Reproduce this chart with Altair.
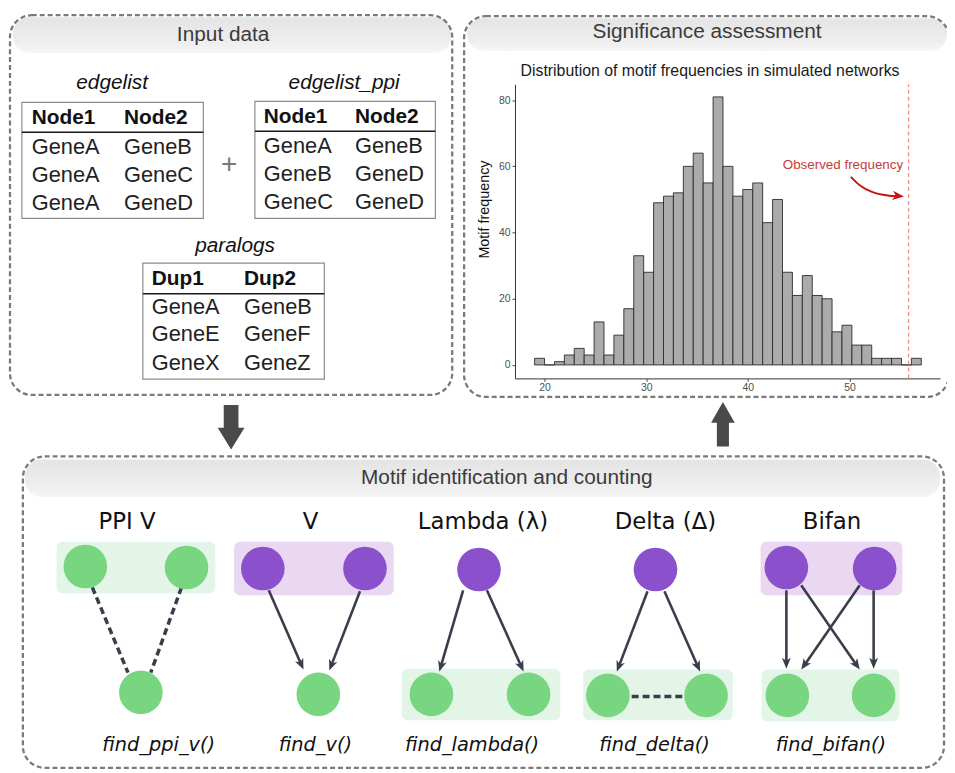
import math
import altair as alt
import pandas as pd

# ---------------- data ----------------
motif_counts = [2, 0, 1, 3, 5, 3, 13, 3, 9, 17, 33, 28, 49, 51, 52, 60, 64, 55, 81,
                60, 51, 53, 55, 43, 50, 28, 21, 27, 21, 20, 10, 12, 6, 6, 2, 2, 2, 0, 2]
first_bin_edge = 19.03
bin_width = 0.975
observed_frequency = 55.8
x_ticks = [20, 30, 40, 50]
y_ticks = [0, 20, 40, 60, 80]

edgelist_node1 = ["GeneA", "GeneA", "GeneA"]
edgelist_node2 = ["GeneB", "GeneC", "GeneD"]
ppi_node1 = ["GeneA", "GeneB", "GeneC"]
ppi_node2 = ["GeneB", "GeneD", "GeneD"]
paralog_dup1 = ["GeneA", "GeneE", "GeneX"]
paralog_dup2 = ["GeneB", "GeneF", "GeneZ"]

panel_titles = ["Input data", "Significance assessment", "Motif identification and counting"]
motif_names = ["PPI  V", "V", "Lambda (λ)", "Delta  (Δ)", "Bifan"]
motif_functions = ["find_ppi_v()", "find_v()", "find_lambda()", "find_delta()", "find_bifan()"]

# ---------------- canvas (page pixel) scales ----------------
W, H = 947, 765


def cX(f):
    return alt.X(f"{f}:Q", scale=alt.Scale(domain=[8, 955], range=[0, W], nice=False, zero=False), axis=None)


def cY(f):
    return alt.Y(f"{f}:Q", scale=alt.Scale(domain=[8, 773], range=[0, H], nice=False, zero=False), axis=None)


def rect_layer(rows, **mark):
    df = pd.DataFrame(rows, columns=["xa", "xb", "ya", "yb"])
    return alt.Chart(df).mark_rect(**mark).encode(x=cX("xa"), x2="xb:Q", y=cY("ya"), y2="yb:Q")


def rule_layer(rows, **mark):
    df = pd.DataFrame(rows, columns=["xa", "ya", "xb", "yb"])
    return alt.Chart(df).mark_rule(**mark).encode(x=cX("xa"), y=cY("ya"), x2="xb:Q", y2="yb:Q")


def text_layer(rows, size, font="Liberation Sans", color="#222222", weight="normal",
               style="normal", align="center", angle=0):
    df = pd.DataFrame(rows, columns=["x", "y", "t"])
    return alt.Chart(df).mark_text(font=font, fontSize=size, fontWeight=weight, fontStyle=style,
                                   color=color, align=align, baseline="middle", angle=angle).encode(
        x=cX("x"), y=cY("y"), text="t:N")


layers = []

# ---------------- panels ----------------
grad = alt.LinearGradient(gradient="linear",
                          stops=[alt.GradientStop(color="#e4e4e4", offset=0),
                                 alt.GradientStop(color="#eeeeee", offset=0.7),
                                 alt.GradientStop(color="#f6f6f6", offset=1)],
                          x1=0, x2=0, y1=0, y2=1)
layers.append(rect_layer([(13, 455, 14, 50), (471, 955, 15, 48), (25, 948, 460, 498)],
                         fill=grad, cornerRadius=17))
layers.append(rect_layer([(10, 456, 12, 395), (468, 957, 13, 397), (23, 952, 457, 771)],
                         fillOpacity=0, stroke="#7a7a7a", strokeWidth=2.3, strokeDash=[5, 3],
                         cornerRadius=22))
layers.append(text_layer([(225, 32, panel_titles[0]), (713, 29, panel_titles[1]),
                          (511, 479, panel_titles[2])], 21, color="#3a3a3a"))

# ---------------- input tables ----------------
tables = [
    dict(box=(22, 205, 100, 217), hline=130, cols=(32, 125), hy=116, rows=(145, 173, 201),
         head=("Node1", "Node2"), c1=edgelist_node1, c2=edgelist_node2, label="edgelist", lx=113, ly=80),
    dict(box=(257, 439, 99, 217), hline=129, cols=(266, 358), hy=115, rows=(144, 172, 200),
         head=("Node1", "Node2"), c1=ppi_node1, c2=ppi_node2, label="edgelist_ppi", lx=347, ly=80),
    dict(box=(144, 327, 262, 379), hline=293, cols=(153, 246), hy=278, rows=(306, 334, 363),
         head=("Dup1", "Dup2"), c1=paralog_dup1, c2=paralog_dup2, label="paralogs", lx=237, ly=245),
]
layers.append(rect_layer([t["box"] for t in tables], fill="white", stroke="#8c8c8c", strokeWidth=1.2))
layers.append(rule_layer([(t["box"][0], t["hline"], t["box"][1], t["hline"]) for t in tables],
                         color="#1a1a1a", strokeWidth=1.6))
head_rows, cell_rows, label_rows = [], [], []
for t in tables:
    head_rows += [(t["cols"][0], t["hy"], t["head"][0]), (t["cols"][1], t["hy"], t["head"][1])]
    for ry, a, b in zip(t["rows"], t["c1"], t["c2"]):
        cell_rows += [(t["cols"][0], ry, a), (t["cols"][1], ry, b)]
    label_rows.append((t["lx"], t["ly"], t["label"]))
layers.append(text_layer(head_rows, 21, weight="bold", align="left", color="#111111"))
layers.append(text_layer(cell_rows, 22, align="left", color="#222222"))
layers.append(text_layer(label_rows, 21, style="italic", color="#111111"))
layers.append(text_layer([(231, 163, "+")], 28, color="#777777"))

# ---------------- block arrows between panels ----------------
down_path = "M-0.33,-1L0.33,-1L0.33,0.02L0.6,0.02L0,1L-0.6,0.02L-0.33,0.02Z"
up_path = "M0,-1L0.53,-0.07L0.27,-0.07L0.27,1L-0.27,1L-0.27,-0.07L-0.53,-0.07Z"
for path, px, py in [(down_path, 233, 427.5), (up_path, 729, 424.5)]:
    layers.append(alt.Chart(pd.DataFrame({"x": [px], "y": [py]})).mark_point(
        shape=path, filled=True, size=2025, color="#4a4a4a", opacity=1).encode(x=cX("x"), y=cY("y")))

# ---------------- histogram ----------------
hist_df = pd.DataFrame({"count": motif_counts})
hist_df["x0"] = [first_bin_edge + i * bin_width for i in range(len(motif_counts))]
hist_df["x1"] = hist_df["x0"] + bin_width
hx = alt.Scale(domain=[17.1, 58.9], range=[511.3, 940], nice=False, zero=False)
hy = alt.Scale(domain=[-4.07, 84.8], range=[370.3, 73.7], nice=False, zero=False)
axis_style = dict(domainColor="#333333", domainWidth=1, tickColor="#333333", tickWidth=0.9, tickSize=3,
                  labelFont="Liberation Sans", labelFontSize=10.5, labelColor="#4d4d4d", grid=False, title=None)
layers.append(alt.Chart(hist_df).mark_rect(fill="#ababab", stroke="#2b2b2b", strokeWidth=0.9).encode(
    x=alt.X("x0:Q", scale=hx, axis=alt.Axis(orient="bottom", offset=-394.7, values=x_ticks,
                                              labelPadding=1, **axis_style)),
    x2="x1:Q",
    y=alt.Y("count:Q", scale=hy, axis=alt.Axis(orient="left", offset=-511.3, values=y_ticks,
                                                labelPadding=2, **axis_style)),
    y2=alt.datum(0),
))
layers.append(alt.Chart(pd.DataFrame({"x": [observed_frequency], "ya": [-4.07], "yb": [84.8]})).mark_rule(
    color="#f08c8c", strokeDash=[4, 3], strokeWidth=1.3).encode(
    x=alt.X("x:Q", scale=hx, axis=None), y=alt.Y("ya:Q", scale=hy, axis=None), y2="yb:Q"))
layers.append(alt.Chart(pd.DataFrame({"x": [49.35], "y": [60.4], "t": ["Observed frequency"]})).mark_text(
    font="Liberation Sans", fontSize=13.5, color="#c93a3a").encode(
    x=alt.X("x:Q", scale=hx, axis=None), y=alt.Y("y:Q", scale=hy, axis=None), text="t:N"))
curve_x = [50.13, 51.0, 52.2, 53.4, 54.6]
curve_y = [56.84, 54.3, 52.3, 51.35, 51.0]
layers.append(alt.Chart(pd.DataFrame({"x": curve_x, "y": curve_y})).mark_line(
    color="#c81414", strokeWidth=2, interpolate="monotone").encode(
    x=alt.X("x:Q", scale=hx, axis=None), y=alt.Y("y:Q", scale=hy, axis=None)))
head_path = "M0,0L0.9,2.2L0,1.6L-0.9,2.2Z"
layers.append(alt.Chart(pd.DataFrame({"x": [55.35], "y": [50.9], "a": [96]})).mark_point(
    shape=head_path, filled=True, size=110, color="#c81414", opacity=1).encode(
    x=alt.X("x:Q", scale=hx, axis=None), y=alt.Y("y:Q", scale=hy, axis=None),
    angle=alt.Angle("a:Q", scale=None)))
layers.append(text_layer([(716, 68, "Distribution of motif frequencies in simulated networks")], 16,
                         color="#1a1a1a"))
layers.append(text_layer([(489, 208, "Motif frequency")], 14.5, color="#111111", angle=270))

# ---------------- motifs ----------------
layers.append(rect_layer([(57, 217, 543, 595), (405, 565, 671, 723), (588, 739, 672, 723),
                          (768, 907, 672, 724)], fill="#e2f5e7", cornerRadius=6))
layers.append(rect_layer([(236, 397, 543, 597), (767, 910, 543, 597)], fill="#ead7f1", cornerRadius=6))

layers.append(rule_layer([(93, 589, 129, 675), (183, 589, 152, 675), (637, 699, 691, 699)],
                         color="#383e4a", strokeWidth=3.5, strokeDash=[7, 4]))

arrows = [((271, 592), (306, 672)), ((363, 593), (332, 673)),
          ((467, 592), (443, 674)), ((491, 592), (528, 674)),
          ((653, 593), (622, 674)), ((670, 593), (706, 674)),
          ((793, 592), (793, 671)), ((881, 592), (881, 671)),
          ((808, 587), (867, 672)), ((867, 587), (808, 672))]
shafts, heads = [], []
for (sx, sy), (tx, ty) in arrows:
    dx, dy = tx - sx, ty - sy
    n = math.hypot(dx, dy)
    ux, uy = dx / n, dy / n
    shafts.append((sx, sy, tx - 7 * ux, ty - 7 * uy))
    heads.append({"x": tx, "y": ty, "a": (math.degrees(math.atan2(dx, -dy)) + 360) % 360})
layers.append(rule_layer(shafts, color="#383e4a", strokeWidth=2.6))
layers.append(alt.Chart(pd.DataFrame(heads)).mark_point(
    shape=head_path, filled=True, size=100, color="#383e4a", opacity=1).encode(
    x=cX("x"), y=cY("y"), angle=alt.Angle("a:Q", scale=None)))

green_nodes = [(86, 568), (188, 569), (142, 695), (321, 697), (435, 697), (533, 697),
               (613, 698), (712, 698), (794, 698), (881, 698)]
purple_nodes = [(265, 570), (368, 570), (483, 571), (661, 571), (793, 569), (882, 570)]
for nodes, col in [(green_nodes, "#78d580"), (purple_nodes, "#8b51cd")]:
    layers.append(alt.Chart(pd.DataFrame(nodes, columns=["x", "y"])).mark_circle(
        size=1936, color=col, opacity=1).encode(x=cX("x"), y=cY("y")))

layers.append(text_layer(list(zip([128, 313, 487, 671, 839], [523] * 5, motif_names)), 23,
                         font="DejaVu Sans", color="#111111"))
layers.append(text_layer(list(zip([160, 318, 476, 660, 838], [748] * 5, motif_functions)), 19.5,
                         font="DejaVu Sans", style="italic", color="#111111"))

chart = alt.layer(*layers).resolve_scale(x="independent", y="independent").properties(
    width=W, height=H, autosize=alt.AutoSizeParams(type="none"), padding=0, background="white"
).configure_view(stroke=None)

chart.save("out.html", embed_options={"renderer": "svg", "actions": False})
